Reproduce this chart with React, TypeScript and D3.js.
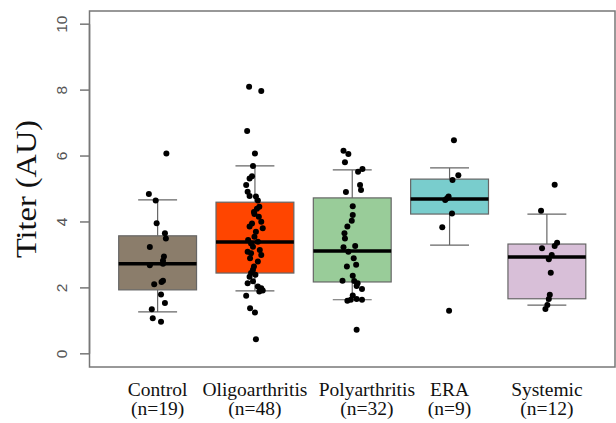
import React from "react";
import * as d3 from "d3";

// ---- data ----
const categories = ["Control", "Oligoarthritis", "Polyarthritis", "ERA", "Systemic"];
const counts = ["(n=19)", "(n=48)", "(n=32)", "(n=9)", "(n=12)"];
const colors = ["#8B7D6B", "#FF4500", "#99CC99", "#79CDCD", "#D8BFD8"];

// box stats: [lowerWhisker, q1, median, q3, upperWhisker]
const controlBox = [1.27, 1.94, 2.73, 3.58, 4.67];
const oligoBox = [1.91, 2.45, 3.39, 4.6, 5.7];
const polyBox = [1.64, 2.18, 3.12, 4.73, 5.58];
const eraBox = [3.3, 4.24, 4.7, 5.3, 5.64];
const systemicBox = [1.48, 1.67, 2.94, 3.33, 4.24];

// points: values and horizontal jitter (hundredths of a category)
const controlVals = [6.08, 4.85, 4.65, 3.96, 3.66, 3.5, 3.24, 2.95, 2.82, 2.73, 2.69, 2.22, 2.18, 2.11, 1.8, 1.54, 1.35, 1.08, 0.97];
const controlJit = [9, -9, -2, -1, 7.5, 8.5, -8, 6.5, 5.5, 5.5, -8, 5.5, 4, -3.5, 3.5, 7.5, -6, -5, 3.5];
const oligoVals = [8.1, 7.97, 6.76, 6.08, 5.7, 5.39, 5.32, 5.12, 4.92, 4.79, 4.77, 4.65, 4.46, 4.4, 4.3, 4.24, 4.16, 4.01, 3.95, 3.86, 3.81, 3.7, 3.55, 3.45, 3.4, 3.35, 3.25, 3.15, 3.1, 3.05, 3.0, 2.9, 2.8, 2.65, 2.55, 2.45, 2.4, 2.34, 2.2, 2.14, 2.04, 1.99, 1.92, 1.89, 1.76, 1.38, 1.25, 0.44];
const oligoJit = [-6, 6.5, -8, 0, -2, -3, -5.5, -9, -7.5, -5.5, 1, 3, 4.5, 2, -1, -0.5, 4, 6.5, -3, -5.5, 8, 1, -0.5, -7, 3, -4, -2, 5, -7.5, -4, 6.5, -5, 3, -1, -2, -4, 0.5, -5.5, -2, -7.5, 3, 6.5, 8, 4.5, -9, -5, 0, 1];
const polyVals = [6.16, 6.06, 5.81, 5.61, 5.52, 5.12, 4.97, 4.91, 4.48, 4.21, 4.04, 3.86, 3.66, 3.5, 3.27, 3.23, 3.1, 2.9, 2.7, 2.65, 2.37, 2.22, 2.21, 2.14, 2.06, 1.97, 1.77, 1.61, 1.64, 1.66, 1.64, 0.73];
const polyJit = [-9, -4, -7.5, 10.5, 6, 8, 9, -6.5, 0.5, 0.5, -0.5, -5, -8, -7.5, 3, -9, -4, 1.5, 4, -5.5, 0.5, -10, 2, 5.5, 4.5, 10, 0.5, -5, -1.5, 4.5, 10, 4.5];
const eraVals = [6.48, 5.42, 5.27, 4.77, 4.72, 4.67, 4.26, 3.84, 1.31];
const eraJit = [4.5, 9, 3, -1, -2.5, -4.5, 2.5, -7.5, -0.5];
const systemicVals = [5.13, 4.34, 3.37, 3.27, 3.2, 3.0, 2.87, 2.46, 1.79, 1.66, 1.48, 1.36];
const systemicJit = [8, -6, 10.5, 8, -5, 5, 2, 4, 3, 2, 0.5, -1.5];

const yTicks = [0, 2, 4, 6, 8, 10];
const yLabel = "Titer (AU)";

const boxes = [controlBox, oligoBox, polyBox, eraBox, systemicBox];
const vals = [controlVals, oligoVals, polyVals, eraVals, systemicVals];
const jits = [controlJit, oligoJit, polyJit, eraJit, systemicJit];

// ---- layout ----
const W = 616;
const H = 423;
const labelShift = [0, 0, 0.15, 0, 0];

export default function App() {
  const x = d3.scaleLinear().domain([0.3, 5.7]).range([89.5, 615]);
  const y = d3.scaleLinear().domain([-0.4, 10.4]).range([367, 11]);
  const boxW = x(0.8) - x(0);
  const capW = x(0.4) - x(0);
  const frame = "#777";
  const grey = "#666";

  return (
    <svg
      width={W}
      height={H}
      style={{ position: "fixed", left: 0, top: 0, background: "#fff" }}
    >
      <rect x={0} y={0} width={W} height={H} fill="#fff" />
      {/* boxes */}
      {boxes.map((b, i) => {
        const cx = x(i + 1);
        const [wl, q1, med, q3, wu] = b;
        return (
          <g key={"b" + i}>
            <line x1={cx} x2={cx} y1={y(wu)} y2={y(q3)} stroke={grey} strokeWidth={1.2} />
            <line x1={cx} x2={cx} y1={y(q1)} y2={y(wl)} stroke={grey} strokeWidth={1.2} />
            <line x1={cx - capW / 2} x2={cx + capW / 2} y1={y(wu)} y2={y(wu)} stroke={grey} strokeWidth={1.2} />
            <line x1={cx - capW / 2} x2={cx + capW / 2} y1={y(wl)} y2={y(wl)} stroke={grey} strokeWidth={1.2} />
            <rect
              x={cx - boxW / 2}
              y={y(q3)}
              width={boxW}
              height={y(q1) - y(q3)}
              fill={colors[i]}
              stroke={grey}
              strokeWidth={1.2}
            />
            <line x1={cx - boxW / 2} x2={cx + boxW / 2} y1={y(med)} y2={y(med)} stroke="#000" strokeWidth={3.5} />
          </g>
        );
      })}
      {/* points */}
      {vals.map((vs, i) =>
        vs.map((v, k) => (
          <circle
            key={"p" + i + "-" + k}
            cx={x(i + 1 + jits[i][k] / 100)}
            cy={y(v)}
            r={3}
            fill="#000"
          />
        ))
      )}
      {/* frame */}
      <rect x={89.5} y={11} width={615 - 89.5} height={367 - 11} fill="none" stroke={frame} strokeWidth={1.5} />
      {/* y axis */}
      <line x1={89.5} x2={89.5} y1={y(0)} y2={y(10)} stroke={frame} strokeWidth={1.5} />
      {yTicks.map((t) => (
        <g key={"t" + t}>
          <line x1={80} x2={89.5} y1={y(t)} y2={y(t)} stroke={frame} strokeWidth={1.5} />
          <text
            transform={`translate(67,${y(t)}) rotate(-90)`}
            textAnchor="middle"
            fontFamily="Liberation Sans, Arial, sans-serif"
            fontSize={15.5}
            fill="#555"
          >
            {t}
          </text>
        </g>
      ))}
      <text
        transform={`translate(36,${y(5)}) rotate(-90)`}
        textAnchor="middle"
        fontFamily="Liberation Serif, Times New Roman, serif"
        fontSize={30}
        textLength={138}
        lengthAdjust="spacingAndGlyphs"
        fill="#111"
      >
        {yLabel}
      </text>
      {/* x labels */}
      {categories.map((c, i) => (
        <g key={"c" + i}>
          <text
            x={x(i + 1 + labelShift[i])}
            y={396}
            textAnchor="middle"
            fontFamily="Liberation Serif, Times New Roman, serif"
            fontSize={19.5}
            fill="#111"
          >
            {c}
          </text>
          <text
            x={x(i + 1 + labelShift[i])}
            y={415}
            textAnchor="middle"
            fontFamily="Liberation Serif, Times New Roman, serif"
            fontSize={19.5}
            fill="#111"
          >
            {counts[i]}
          </text>
        </g>
      ))}
    </svg>
  );
}
